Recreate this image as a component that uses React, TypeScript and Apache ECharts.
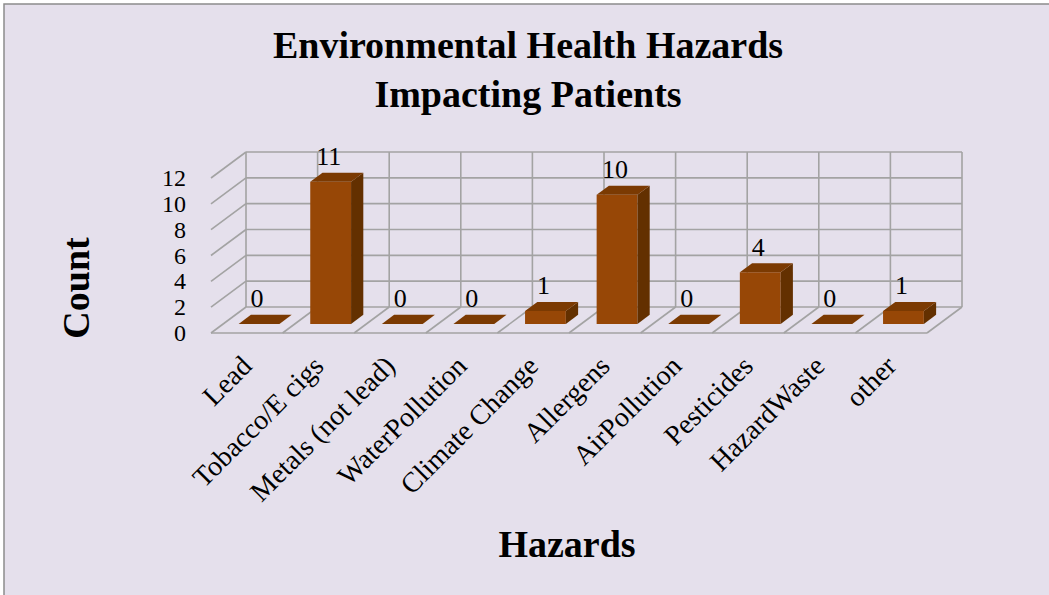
import React, { useEffect, useRef } from "react";
import * as echarts from "echarts";

const categories = [
  "Lead",
  "Tobacco/E cigs",
  "Metals (not lead)",
  "WaterPollution",
  "Climate Change",
  "Allergens",
  "AirPollution",
  "Pesticides",
  "HazardWaste",
  "other",
];
const counts = [0, 11, 0, 0, 1, 10, 0, 4, 0, 1];
const yTicks = [0, 2, 4, 6, 8, 10, 12];
const titleLines = ["Environmental Health Hazards", "Impacting Patients"];
const yAxisTitle = "Count";
const xAxisTitle = "Hazards";

const SERIF = '"Liberation Serif", "Times New Roman", serif';
const GRID_COLOR = "#A3A3A3";
const BG = "#E5E0EC";
const FRONT = "#974706";
const SIDE = "#633000";
const TOP = "#7B3A02";
// depth of the 3D box (back wall -> front edge)
const DX = -35;
const DY = 26;
const BAR_BACK = 0.3;
const BAR_FRONT = 0.65;
const BAR_W = 0.57;

export default function App() {
  const ref = useRef<HTMLDivElement>(null);

  useEffect(() => {
    if (!ref.current) return;
    const chart = echarts.init(ref.current, undefined, { renderer: "svg" });
    const n = categories.length;

    const frameRender = (params: any, api: any) => {
      const bw = api.size([1, 0])[0];
      const left = api.coord([0, 0])[0] - bw / 2;
      const right = api.coord([n - 1, 0])[0] + bw / 2;
      const y0 = api.coord([0, 0])[1];
      const yTop = api.coord([0, yTicks[yTicks.length - 1]])[1];
      const ls = { stroke: GRID_COLOR, lineWidth: 1.6, fill: null };
      const children: any[] = [];
      yTicks.forEach((t) => {
        const y = api.coord([0, t])[1];
        children.push({ type: "line", shape: { x1: left, y1: y, x2: right, y2: y }, style: ls });
        if (t !== 0) {
          children.push({ type: "line", shape: { x1: left + DX, y1: y + DY, x2: left, y2: y }, style: ls });
        }
      });
      for (let k = 0; k <= n; k++) {
        const x = left + k * bw;
        children.push({ type: "line", shape: { x1: x, y1: yTop, x2: x, y2: y0 }, style: ls });
        children.push({ type: "line", shape: { x1: x, y1: y0, x2: x + DX, y2: y0 + DY }, style: ls });
      }
      children.push({
        type: "line",
        shape: { x1: left + DX, y1: y0 + DY, x2: right + DX, y2: y0 + DY },
        style: ls,
      });
      return { type: "group", children };
    };

    const barRender = (params: any, api: any) => {
      const i = api.value(0);
      const v = api.value(1);
      const [cx, yv] = api.coord([i, v]);
      const y0 = api.coord([i, 0])[1];
      const bw = api.size([1, 0])[0];
      const w = bw * BAR_W;
      const fx = cx + DX * BAR_FRONT;
      const fTop = yv + DY * BAR_FRONT;
      const fBot = y0 + DY * BAR_FRONT;
      const bx = cx + DX * BAR_BACK;
      const bTop = yv + DY * BAR_BACK;
      const bBot = y0 + DY * BAR_BACK;
      const children: any[] = [];
      if (fBot - fTop > 0.5) {
        children.push({
          type: "rect",
          shape: { x: fx - w / 2, y: fTop, width: w, height: fBot - fTop },
          style: { fill: FRONT },
        });
        children.push({
          type: "polygon",
          shape: {
            points: [
              [fx + w / 2, fTop],
              [fx + w / 2, fBot],
              [bx + w / 2, bBot],
              [bx + w / 2, bTop],
            ],
          },
          style: { fill: SIDE },
        });
      }
      children.push({
        type: "polygon",
        shape: {
          points: [
            [fx - w / 2, fTop],
            [fx + w / 2, fTop],
            [bx + w / 2, bTop],
            [bx - w / 2, bTop],
          ],
        },
        style: { fill: TOP },
      });
      children.push({
        type: "text",
        x: fx - 2,
        y: bTop - 16,
        style: {
          text: String(v),
          fill: "#000",
          font: `26px ${SERIF}`,
          align: "center",
          verticalAlign: "middle",
        },
      });
      return { type: "group", children };
    };

    chart.setOption({
      animation: false,
      backgroundColor: "transparent",
      graphic: [
        {
          type: "rect",
          z: -10,
          shape: { x: 4, y: 4, width: 1100, height: 700 },
          style: { fill: BG, stroke: "#8C8C8C", lineWidth: 1.5 },
        },
        {
          type: "text",
          z: 10,
          x: 528,
          y: 45,
          style: { text: titleLines[0], font: `bold 38px ${SERIF}`, fill: "#000", align: "center", verticalAlign: "middle" },
        },
        {
          type: "text",
          z: 10,
          x: 528,
          y: 94,
          style: { text: titleLines[1], font: `bold 38px ${SERIF}`, fill: "#000", align: "center", verticalAlign: "middle" },
        },
        {
          type: "text",
          z: 10,
          x: 76,
          y: 288,
          rotation: Math.PI / 2,
          style: { text: yAxisTitle, font: `bold 38px ${SERIF}`, fill: "#000", align: "center", verticalAlign: "middle" },
        },
        {
          type: "text",
          z: 10,
          x: 567,
          y: 544,
          style: { text: xAxisTitle, font: `bold 38px ${SERIF}`, fill: "#000", align: "center", verticalAlign: "middle" },
        },
      ],
      grid: [
        { left: 246, right: 87, top: 152, bottom: 288 },
        { left: 211, right: 122, top: 178, bottom: 262 },
      ],
      xAxis: [
        {
          gridIndex: 0,
          type: "category",
          data: categories,
          axisLine: { show: false },
          axisTick: { show: false },
          axisLabel: { show: false },
          splitLine: { show: false },
        },
        {
          gridIndex: 1,
          type: "category",
          data: categories,
          axisLine: { show: false },
          axisTick: { show: false },
          splitLine: { show: false },
          axisLabel: {
            interval: 0,
            rotate: 45,
            margin: 28,
            color: "#000",
            fontSize: 28,
            fontFamily: SERIF,
          },
        },
      ],
      yAxis: [
        {
          gridIndex: 0,
          type: "value",
          min: 0,
          max: 12,
          interval: 2,
          axisLine: { show: false },
          axisTick: { show: false },
          axisLabel: { show: false },
          splitLine: { show: false },
        },
        {
          gridIndex: 1,
          type: "value",
          min: 0,
          max: 12,
          interval: 2,
          axisLine: { show: false },
          axisTick: { show: false },
          splitLine: { show: false },
          axisLabel: {
            margin: 25,
            color: "#000",
            fontSize: 24,
            lineHeight: 24,
            fontFamily: SERIF,
          },
        },
      ],
      series: [
        {
          type: "custom",
          name: "frame",
          xAxisIndex: 0,
          yAxisIndex: 0,
          z: 1,
          silent: true,
          data: [[0, 0]],
          renderItem: frameRender,
        },
        {
          type: "custom",
          name: "Count",
          xAxisIndex: 0,
          yAxisIndex: 0,
          z: 3,
          data: counts.map((v, i) => [i, v]),
          encode: { x: 0, y: 1 },
          renderItem: barRender,
        },
      ],
    });

    return () => chart.dispose();
  }, []);

  return (
    <div
      ref={ref}
      style={{ position: "fixed", left: 0, top: 0, width: 1049, height: 595, background: "#fff" }}
    />
  );
}
